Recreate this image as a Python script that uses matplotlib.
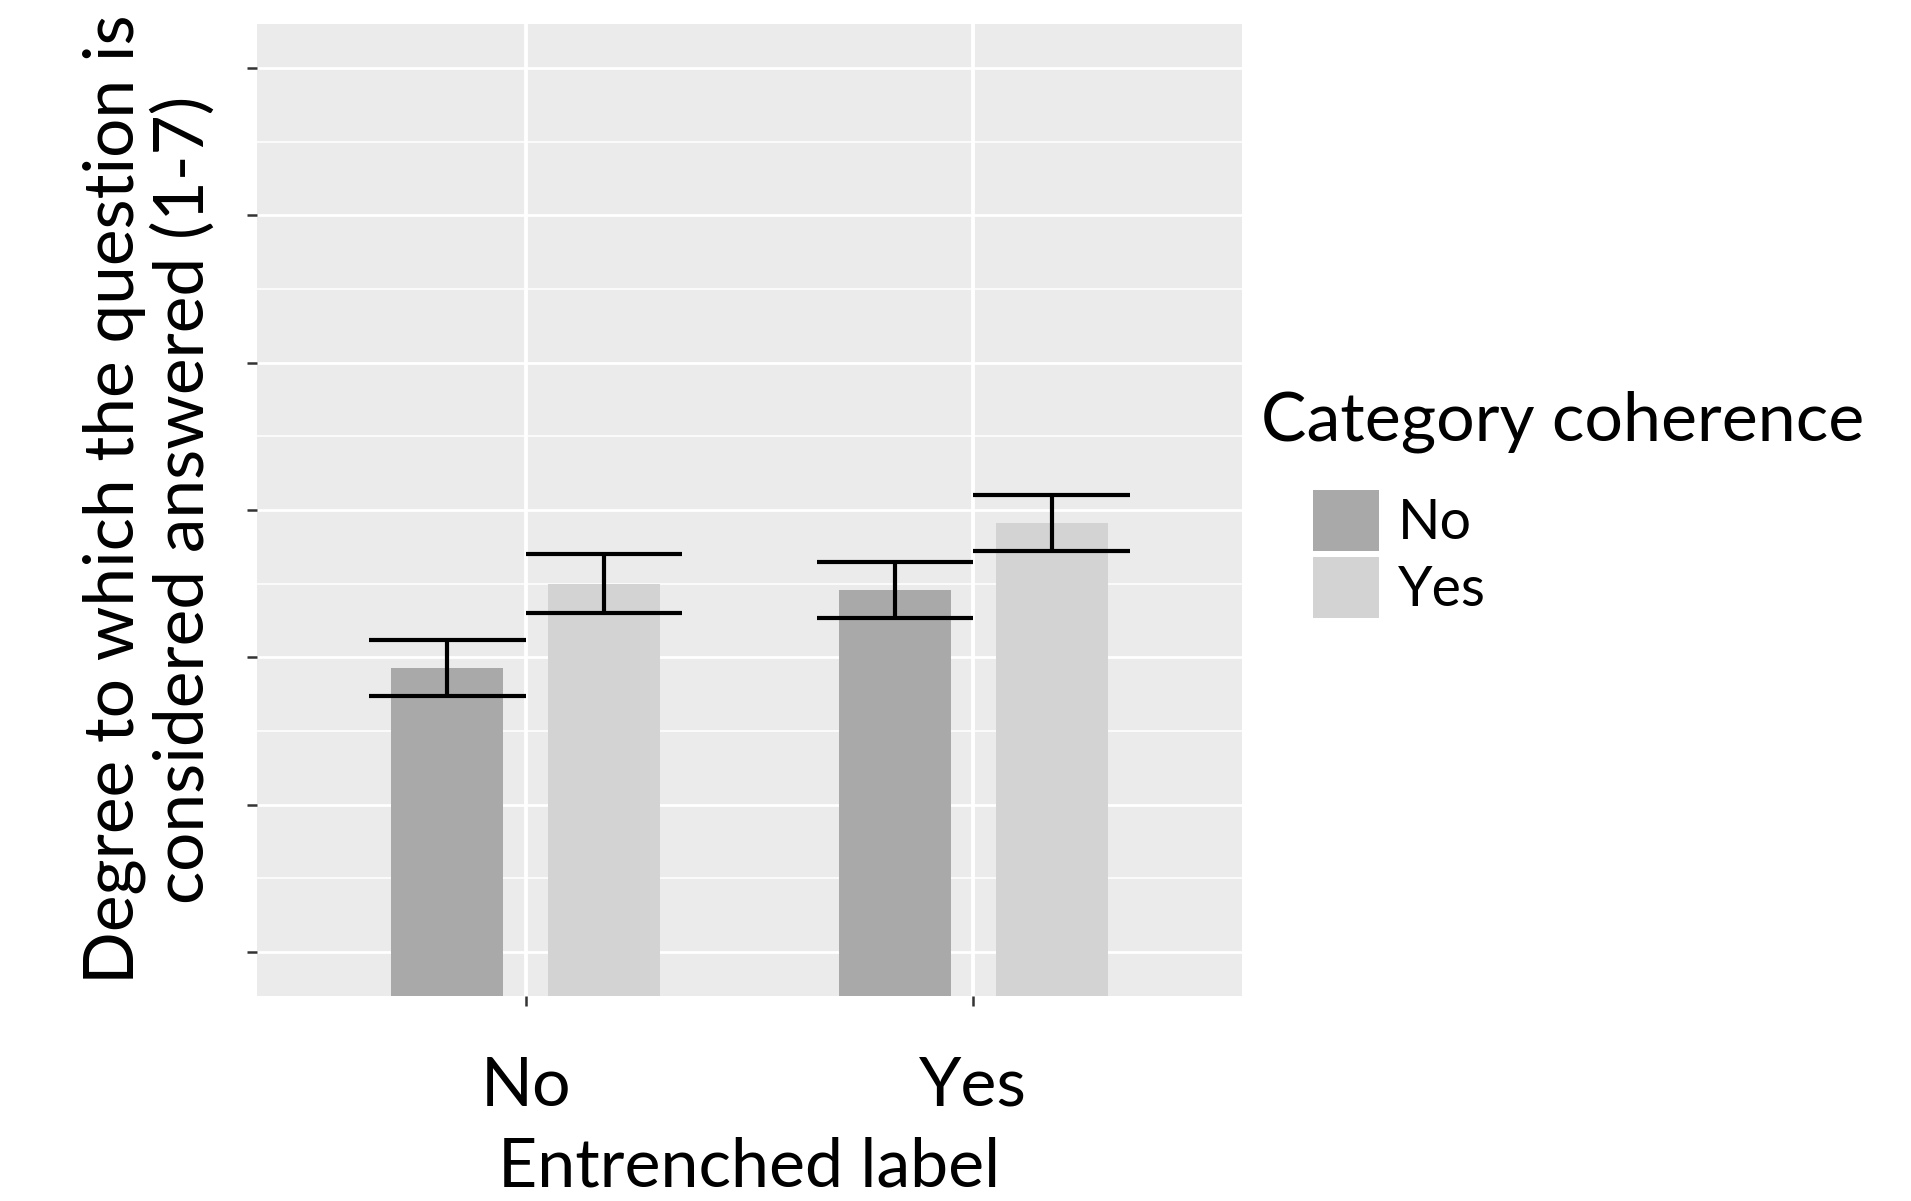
import matplotlib
matplotlib.use("Agg")
import matplotlib.pyplot as plt
import numpy as np
from matplotlib.ticker import MultipleLocator

# group means and standard errors, per entrenched-label level
entrenched = ["No", "Yes"]
coherence = ["No", "Yes"]
mean_no = [2.93, 3.46]
mean_yes = [3.50, 3.91]
se_no = [0.19, 0.19]
se_yes = [0.20, 0.19]

means = {"No": mean_no, "Yes": mean_yes}
ses = {"No": se_no, "Yes": se_yes}
fills = {"No": "#A9A9A9", "Yes": "#D3D3D3"}

plt.rcParams['font.family'] = ['Lato', 'DejaVu Sans']

fig = plt.figure(figsize=(19.11, 12.01), dpi=100)
ax = fig.add_axes([0.1345, 0.1707, 0.5154, 0.8093])
ax.set_facecolor('#EBEBEB')
for s in ax.spines.values():
    s.set_visible(False)

x = np.arange(1, len(entrenched) + 1)
dodge = 0.175
bar_w = 0.25
err_w = 0.35

handles = []
for i, c in enumerate(coherence):
    pos = x + (2 * i - 1) * dodge
    m = np.array(means[c])
    e = np.array(ses[c])
    b = ax.bar(pos, m, width=bar_w, color=fills[c], zorder=2, label=c)
    handles.append(b)
    ax.vlines(pos, m - e, m + e, color='black', lw=3.0, zorder=3)
    ax.hlines(m - e, pos - err_w / 2, pos + err_w / 2, color='black', lw=3.0, zorder=3)
    ax.hlines(m + e, pos - err_w / 2, pos + err_w / 2, color='black', lw=3.0, zorder=3)

ax.set_xlim(0.4, 2.6)
ax.set_ylim(0.7, 7.3)
ax.set_xticks(x)
ax.set_xticklabels(entrenched, fontsize=49)
ax.yaxis.set_major_locator(MultipleLocator(1))
ax.yaxis.set_minor_locator(MultipleLocator(0.5))
ax.set_yticks(np.arange(1, 8))
ax.set_yticklabels([])
ax.tick_params(axis='y', which='major', length=7, width=1.8, color='#333333')
ax.tick_params(axis='y', which='minor', length=0)
ax.tick_params(axis='x', length=7, width=1.8, color='#333333', pad=36)

ax.grid(True, which='major', axis='x', color='white', lw=2.8, zorder=1)
ax.grid(True, which='major', axis='y', color='white', lw=2.0, zorder=1)
ax.grid(True, which='minor', axis='y', color='white', lw=1.1, zorder=1)
ax.set_axisbelow(True)

fig.text(0.3922, 0.002, "Entrenched label", fontsize=49, ha='center', va='bottom')
fig.text(0.078, 0.584, "Degree to which the question is\nconsidered answered (1-7)",
         fontsize=50, rotation=90, ha='center', va='center', multialignment='center',
         linespacing=1.1)

fig.text(0.66, 0.633, "Category coherence", fontsize=49, ha='left', va='baseline')
leg = ax.legend(handles=handles, labels=coherence, loc='upper left',
                bbox_to_anchor=(1313 / 1911, 1 - 490 / 1201), bbox_transform=fig.transFigure,
                frameon=False, fontsize=40, handlelength=1.18, handleheight=1.3,
                labelspacing=0.12, handletextpad=0.35, borderpad=0, borderaxespad=0)

fig.savefig("out.png", dpi=100)
